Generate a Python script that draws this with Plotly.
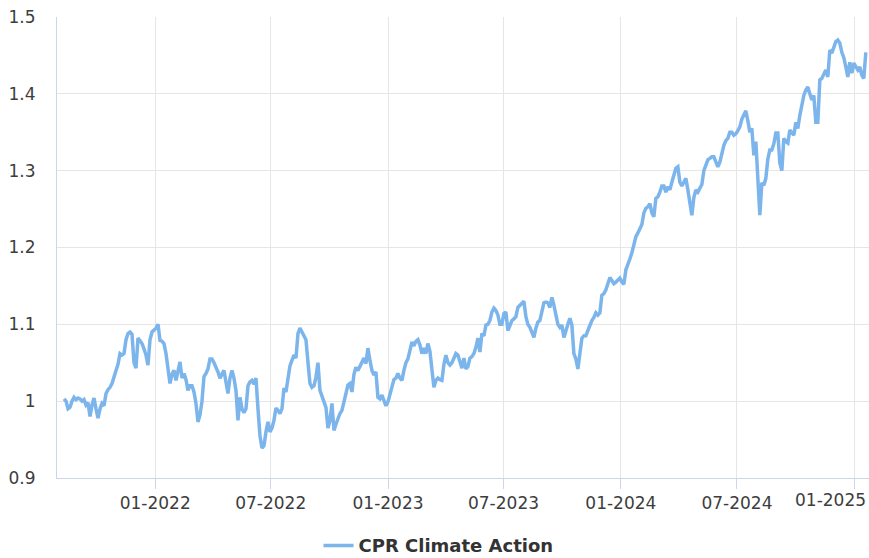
import pandas as pd
import plotly.graph_objects as go

# Series name and period covered by the NAV history (evenly spaced observations)
series_name = "CPR Climate Action"
start_date = "2021-08-11"
end_date = "2025-01-19"

# Rebased NAV (start = 1)
nav_values = [
    # Aug 2021 - Jan 2022
    1.003, 1.0, 0.99, 0.992, 1.0, 1.005, 1.002, 1.004, 1.003, 1.0,
    1.002, 0.995, 0.998, 0.98, 0.995, 1.004, 0.99, 0.978, 0.99, 0.997,
    0.994, 1.01, 1.015, 1.018, 1.023, 1.03, 1.04, 1.048, 1.062, 1.06,
    1.062, 1.08, 1.088, 1.09, 1.087, 1.05, 1.043, 1.082, 1.078, 1.075,
    1.068, 1.06, 1.047, 1.08, 1.09, 1.092,
    # 2022 H1
    1.095, 1.1, 1.079, 1.078, 1.075, 1.062, 1.045, 1.023, 1.035, 1.04,
    1.027, 1.04, 1.051, 1.03, 1.036, 1.028, 1.014, 1.02, 1.02, 1.012,
    0.997, 0.973, 0.982, 1.0, 1.032, 1.036, 1.042, 1.055, 1.055, 1.05,
    1.045, 1.038, 1.03, 1.036, 1.04, 1.025, 1.01, 1.03, 1.04, 1.03,
    1.014, 0.975, 1.005, 0.99, 0.985, 0.99, 1.02, 1.025, 1.027, 1.022,
    1.03, 0.99, 0.955,
    # 2022 H2
    0.939, 0.942, 0.96, 0.973, 0.96, 0.965, 0.975, 0.991, 0.988, 0.984,
    0.99, 1.017, 1.012, 1.03, 1.046, 1.053, 1.06, 1.056, 1.088, 1.095,
    1.09, 1.086, 1.08, 1.051, 1.023, 1.018, 1.02, 1.031, 1.05, 1.014,
    1.006, 1.0, 0.992, 0.965, 0.975, 0.997, 0.962, 0.97, 0.978, 0.984,
    0.988, 1.0, 1.01, 1.021, 1.023, 1.012, 1.035, 1.044, 1.04, 1.045,
    # 2023 H1
    1.052, 1.056, 1.049, 1.069, 1.053, 1.04, 1.034, 1.038, 1.005, 1.003,
    1.008, 1.0, 0.994, 0.999, 1.008, 1.018, 1.028, 1.03, 1.036, 1.03,
    1.027, 1.04, 1.05, 1.055, 1.066, 1.077, 1.072, 1.078, 1.08, 1.073,
    1.062, 1.069, 1.062, 1.075, 1.065, 1.035, 1.018, 1.027, 1.03, 1.028,
    1.027, 1.048, 1.06, 1.05, 1.047, 1.05, 1.055, 1.062, 1.06, 1.052,
    1.043, 1.056, 1.042, 1.045, 1.056,
    # 2023 H2
    1.058, 1.062, 1.07, 1.082, 1.064, 1.088, 1.085, 1.099, 1.1, 1.105,
    1.116, 1.121, 1.118, 1.112, 1.1, 1.1, 1.114, 1.116, 1.092, 1.098,
    1.105, 1.107, 1.11, 1.122, 1.125, 1.128, 1.13, 1.11, 1.1, 1.096,
    1.09, 1.083, 1.095, 1.103, 1.105, 1.118, 1.128, 1.129, 1.128, 1.122,
    1.135, 1.125, 1.11, 1.1, 1.096, 1.099, 1.083, 1.09, 1.1, 1.108,
    1.099, 1.062,
    # 2024 H1
    1.055, 1.042, 1.062, 1.082, 1.085, 1.085, 1.092, 1.1, 1.105, 1.109,
    1.115, 1.112, 1.115, 1.138, 1.14, 1.145, 1.152, 1.161, 1.157, 1.153,
    1.155, 1.158, 1.16, 1.155, 1.152, 1.171, 1.177, 1.185, 1.193, 1.206,
    1.214, 1.219, 1.225, 1.23, 1.245, 1.251, 1.253, 1.257, 1.245, 1.24,
    1.264, 1.266, 1.272, 1.28, 1.28, 1.272, 1.279, 1.275, 1.285, 1.296,
    1.303, 1.305,
    # 2024 H2
    1.285, 1.28, 1.284, 1.29, 1.275, 1.255, 1.242, 1.265, 1.275, 1.272,
    1.278, 1.282, 1.3, 1.308, 1.314, 1.316, 1.318, 1.318, 1.31, 1.305,
    1.311, 1.324, 1.333, 1.339, 1.342, 1.35, 1.35, 1.346, 1.348, 1.352,
    1.357, 1.367, 1.374, 1.378, 1.365, 1.35, 1.355, 1.32, 1.338, 1.292,
    1.242, 1.284, 1.281, 1.29, 1.315, 1.327, 1.327, 1.335, 1.349, 1.349,
    1.31, 1.3,
    # late 2024 - Jan 2025
    1.342, 1.338, 1.336, 1.353, 1.35, 1.346, 1.363, 1.355, 1.372, 1.385,
    1.398, 1.405, 1.409, 1.4, 1.392, 1.398, 1.363, 1.363, 1.418, 1.42,
    1.425, 1.431, 1.422, 1.457, 1.453, 1.46, 1.468, 1.47, 1.466, 1.454,
    1.447, 1.435, 1.422, 1.441, 1.427, 1.44, 1.435, 1.431, 1.435, 1.424,
    1.42, 1.454,
]

tick_dates = ["2022-01-01", "2022-07-01", "2023-01-01", "2023-07-01",
              "2024-01-01", "2024-07-01", "2025-01-01"]
tick_labels = ["01-2022", "07-2022", "01-2023", "07-2023",
               "01-2024", "07-2024", "01-2025"]
y_ticks = [0.9, 1.0, 1.1, 1.2, 1.3, 1.4, 1.5]
y_labels = ["0.9", "1", "1.1", "1.2", "1.3", "1.4", "1.5"]

dates = pd.date_range(start_date, end_date, periods=len(nav_values))

FONT = "DejaVu Sans"
LINE_COLOR = "#7cb5ec"
GRID = "#e6e6e6"
AXIS = "#ccd6eb"
LABEL = "#3d3d3d"

# The last tick label sits against the right edge: it is drawn separately,
# right-aligned to the chart edge so it stays fully visible.
axis_ticktext = tick_labels[:-1] + [""]

fig = go.Figure()
fig.add_trace(go.Scatter(
    x=dates, y=nav_values, mode="lines", name=series_name,
    line=dict(color=LINE_COLOR, width=3.5),
))

fig.add_annotation(
    text=tick_labels[-1], xref="paper", yref="paper",
    x=1.0, xanchor="right", xshift=-1,
    y=-22 / 461, yanchor="middle",
    showarrow=False,
    font=dict(family=FONT, size=17, color=LABEL),
)

fig.update_layout(
    width=869, height=558,
    margin=dict(l=57, r=0, t=17, b=80),
    plot_bgcolor="white", paper_bgcolor="white",
    font=dict(family=FONT, size=17, color=LABEL),
    showlegend=True,
    legend=dict(
        orientation="h", xref="container", yref="container",
        x=0.5 + 4 / 869, xanchor="center", y=0.022, yanchor="middle",
        font=dict(family=FONT, size=18, color="#333333", weight="bold"),
        itemwidth=30,
    ),
    xaxis=dict(
        type="date",
        range=["2021-07-31", "2025-01-24"],
        tickvals=tick_dates, ticktext=axis_ticktext,
        showgrid=True, gridcolor=GRID, gridwidth=1,
        showline=True, linecolor=AXIS, linewidth=1,
        zeroline=False,
        ticks="outside", ticklen=10, tickcolor=AXIS, tickwidth=1,
        ticklabelstandoff=0,
        tickfont=dict(family=FONT, size=17, color=LABEL),
    ),
    yaxis=dict(
        range=[0.9, 1.5],
        tickvals=y_ticks, ticktext=y_labels,
        showgrid=True, gridcolor=GRID, gridwidth=1,
        showline=True, linecolor=AXIS, linewidth=1,
        zeroline=False, ticks="",
        ticklabelstandoff=17,
        tickfont=dict(family=FONT, size=17, color=LABEL),
    ),
)

fig.write_html("out.html")
